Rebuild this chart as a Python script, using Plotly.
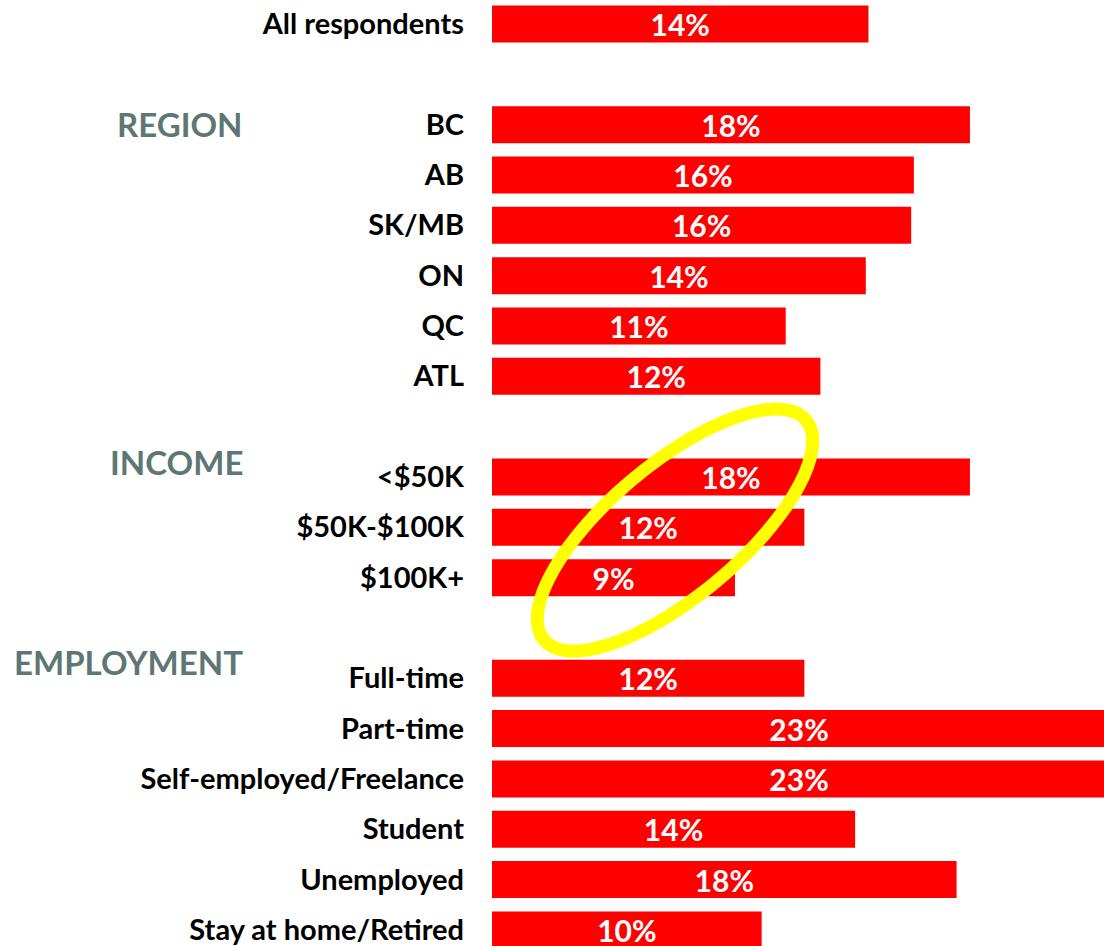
import numpy as np
import plotly.graph_objects as go

# ---- data ----
categories = ["All respondents", " ",
              "BC", "AB", "SK/MB", "ON", "QC", "ATL", "  ",
              "<$50K", "$50K-$100K", "$100K+", "   ",
              "Full-time", "Part-time", "Self-employed/Freelance", "Student",
              "Unemployed", "Stay at home/Retired"]
values = [14.1, None,
          17.9, 15.8, 15.7, 14.0, 11.0, 12.3, None,
          17.9, 11.7, 9.1, None,
          11.7, 23.0, 23.0, 13.6, 17.4, 10.1]
labels = ["14%", "",
          "18%", "16%", "16%", "14%", "11%", "12%", "",
          "18%", "12%", "9%", "",
          "12%", "23%", "23%", "14%", "18%", "10%"]
groups = ["REGION", "INCOME", "EMPLOYMENT"]

W, H = 1104, 946
L = 492
FONT = "Lato"

fig = go.Figure()
fig.add_trace(go.Bar(
    y=categories, x=values, orientation="h",
    marker=dict(color="#ff0000", line=dict(width=0)),
    text=labels, textposition="inside", insidetextanchor="middle",
    constraintext="none",
    textfont=dict(family=FONT, size=30, color="white", weight="bold"),
    hoverinfo="skip",
))

def px2paper(px, py):
    return (px - L) / (W - L), 1 - py / H

# group headers
for name, py in zip(groups, [124, 462, 662]):
    xp, yp = px2paper(245, py)
    fig.add_annotation(text=name, xref="paper", yref="paper", x=xp, y=yp,
                       xanchor="right", yanchor="middle", showarrow=False,
                       font=dict(family=FONT, size=33, color="#5e7774", weight="bold"))

# yellow ellipse highlight
cx, cy, a, b, th = 675, 530, 171, 66, np.deg2rad(40)
t = np.linspace(0, 2 * np.pi, 120)
ex = cx + a * np.cos(t) * np.cos(th) + b * np.sin(t) * np.sin(th)
ey = cy - a * np.cos(t) * np.sin(th) + b * np.sin(t) * np.cos(th)
pts = [px2paper(x_, y_) for x_, y_ in zip(ex, ey)]
path = "M " + " L ".join(f"{p[0]:.5f},{p[1]:.5f}" for p in pts) + " Z"
fig.add_shape(type="path", path=path, xref="paper", yref="paper",
              line=dict(color="#ffff00", width=13), fillcolor="rgba(0,0,0,0)")

fig.update_layout(
    width=W, height=H, margin=dict(l=L, r=0, t=0, b=0),
    plot_bgcolor="white", paper_bgcolor="white",
    showlegend=False, bargap=0.265,
    xaxis=dict(range=[0, (W - L) / 26.7], visible=False),
    yaxis=dict(type="category", categoryorder="array", categoryarray=categories,
               range=[(H - 24) / 50.33, -24 / 50.33], showgrid=False, zeroline=False,
               showline=False, ticks="", ticklabelstandoff=27,
               tickfont=dict(family=FONT, size=29, color="black", weight="bold")),
)
fig.write_html("out.html", config={"displayModeBar": False},
               post_script="document.body.style.margin='0px';")
